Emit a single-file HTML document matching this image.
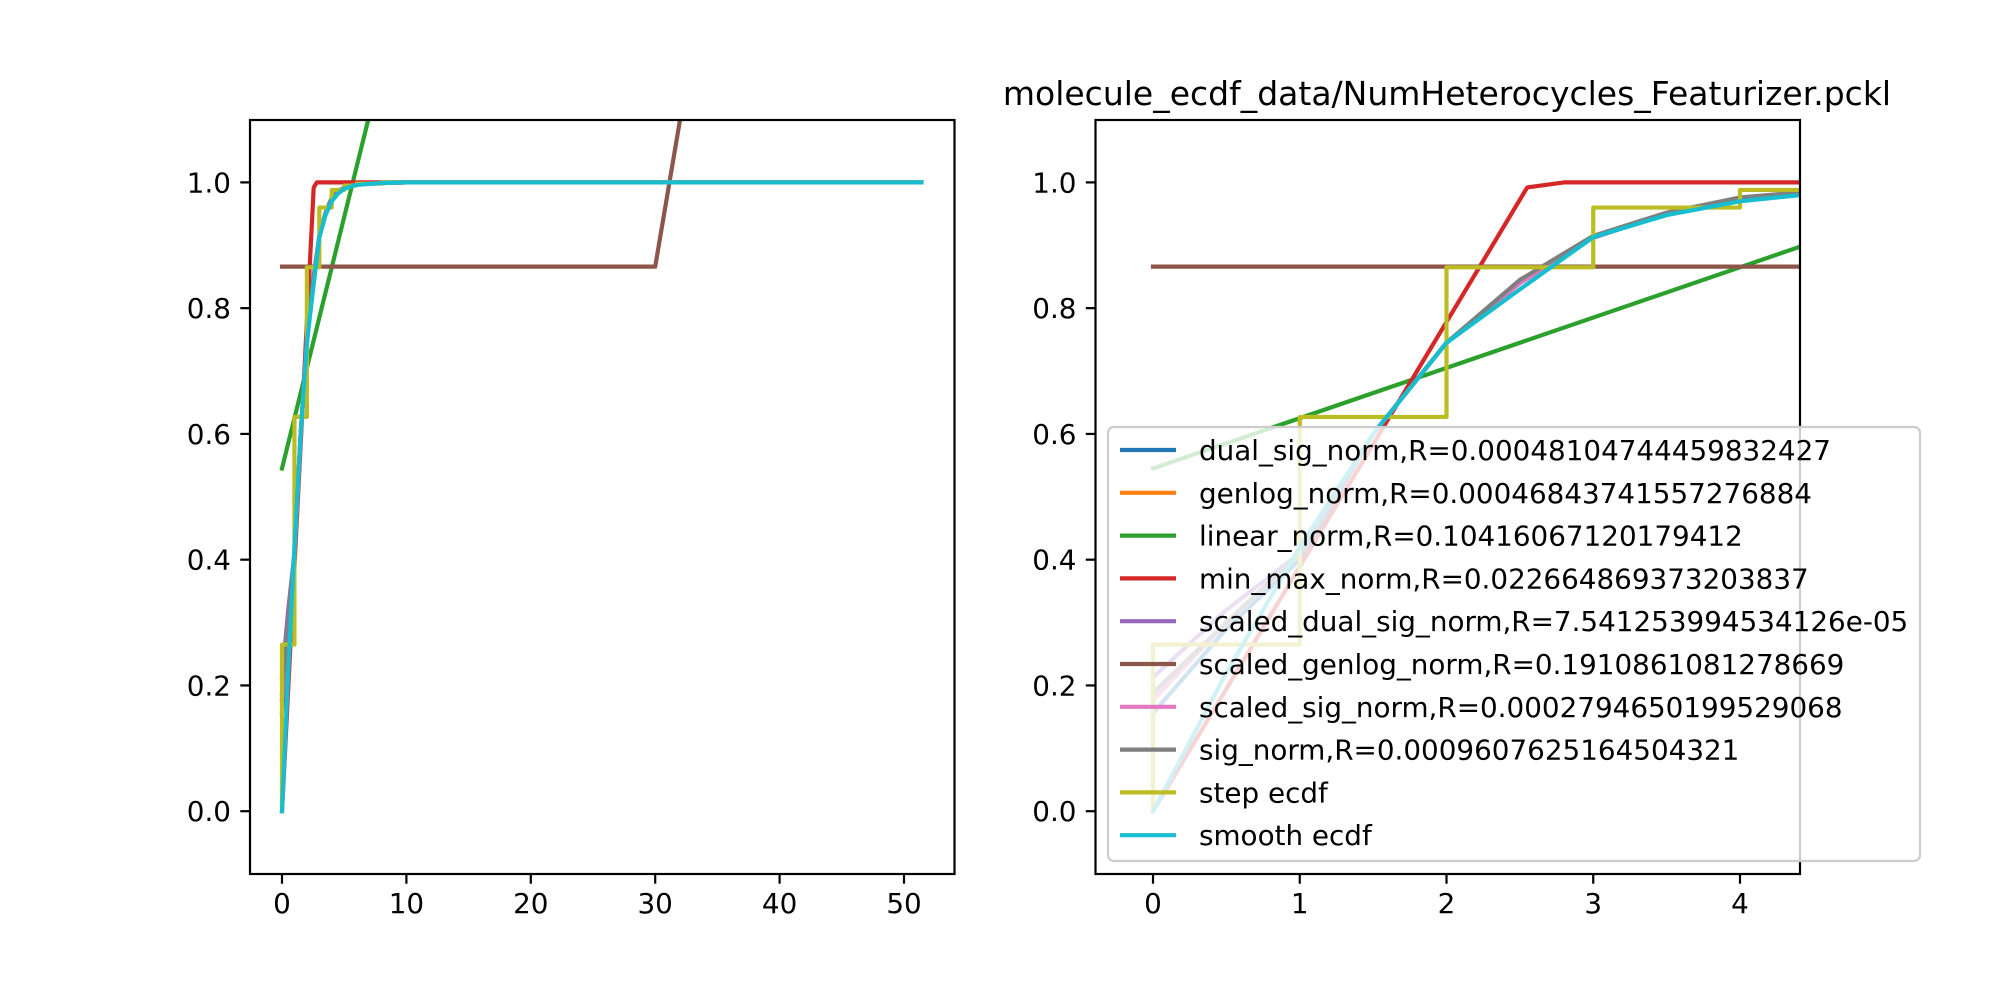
<!DOCTYPE html>
<html><head><meta charset="utf-8"><style>
html,body{margin:0;padding:0;background:#fff;}
svg text{font-family:"DejaVu Sans","Liberation Sans",sans-serif;fill:#000;}
</style></head><body>
<svg id="fig" width="2000" height="1000" viewBox="0 0 2000 1000" xmlns="http://www.w3.org/2000/svg">
<rect width="2000" height="1000" fill="#fff"/>
<defs>
<clipPath id="clipL"><rect x="250" y="120" width="704.5" height="754"/></clipPath>
<clipPath id="clipR"><rect x="1095.5" y="120" width="704.5" height="754"/></clipPath>
</defs>
<g id="left"></g>
<g id="right"></g>
<text x="1447" y="105" font-size="33" text-anchor="middle">molecule_ecdf_data/NumHeterocycles_Featurizer.pckl</text>
<g id="legend"></g>
</svg>
<script>
const smoothX = [0,0.5,1,1.5,2,2.5,3,3.5,4,4.5,5,6,8,10,51.4];
const dualSig = [0.156,0.29,0.40,0.60,0.745,0.84,0.914,0.95,0.975,0.985,0.991,0.997,0.999,1,1];
const genlog = [0.177,0.30,0.41,0.60,0.745,0.84,0.914,0.95,0.975,0.985,0.991,0.997,0.999,1,1];
const scaledDualSig = [0.213,0.32,0.41,0.60,0.745,0.84,0.912,0.95,0.975,0.985,0.99,0.997,0.999,1,1];
const scaledSig = [0.177,0.30,0.41,0.60,0.745,0.84,0.914,0.95,0.975,0.985,0.991,0.997,0.999,1,1];
const sigNorm = [0.188,0.30,0.41,0.60,0.745,0.845,0.915,0.952,0.976,0.986,0.992,0.997,0.999,1,1];
const smoothEcdf = [0,0.22,0.42,0.60,0.745,0.83,0.913,0.948,0.97,0.982,0.99,0.996,0.999,1,1];
const linearX = [0,51.4];
const linearY = [0.545,4.657];
const minMaxX = [0,2.55,2.8,51.4];
const minMaxY = [0,0.992,1,1];
const genScaledX = [0,30,51.4];
const genScaledY = [0.866,0.866,3.37];
const stepX = [0,1,2,3,4,5,6,8,51.4];
const stepY = [0.265,0.627,0.865,0.96,0.988,0.995,0.998,1,1];
const yTicks = [0,0.2,0.4,0.6,0.8,1.0];
const yTickLabels = ["0.0","0.2","0.4","0.6","0.8","1.0"];
const leftXTicks = [0,10,20,30,40,50];
const rightXTicks = [0,1,2,3,4];
const legendLabels = ["dual_sig_norm,R=0.00048104744459832427","genlog_norm,R=0.00046843741557276884","linear_norm,R=0.10416067120179412","min_max_norm,R=0.022664869373203837","scaled_dual_sig_norm,R=7.541253994534126e-05","scaled_genlog_norm,R=0.1910861081278669","scaled_sig_norm,R=0.0002794650199529068","sig_norm,R=0.0009607625164504321","step ecdf","smooth ecdf"];
const colors = ["#1f77b4","#ff7f0e","#2ca02c","#d62728","#9467bd","#8c564b","#e377c2","#7f7f7f","#bcbd22","#17becf"];

const NS="http://www.w3.org/2000/svg";
function mk(tag,attrs,parent){const e=document.createElementNS(NS,tag);for(const k in attrs)e.setAttribute(k,attrs[k]);parent.appendChild(e);return e;}
const yS = v => 811.2 - v*628.8;
const axesDefs = [
 {g:'left', x0:250, w:704.5, sx: v=>282+v*12.44, ticks:leftXTicks, clip:'clipL'},
 {g:'right', x0:1095.5, w:704.5, sx: v=>1153+v*146.75, ticks:rightXTicks, clip:'clipR'}
];
function stepPts(){const p=[[0,0]];let prev=0;for(let i=0;i<stepX.length;i++){p.push([stepX[i],prev]);p.push([stepX[i],stepY[i]]);prev=stepY[i];}return p;}
function zipPts(xs,ys){return xs.map((x,i)=>[x,ys[i]]);}
const series = [
 zipPts(smoothX,dualSig), zipPts(smoothX,genlog), zipPts(linearX,linearY), zipPts(minMaxX,minMaxY),
 zipPts(smoothX,scaledDualSig), zipPts(genScaledX,genScaledY), zipPts(smoothX,scaledSig), zipPts(smoothX,sigNorm),
 stepPts(), zipPts(smoothX,smoothEcdf)
];
const names=["dual-sig-norm-line","genlog-norm-line","linear-norm-line","min-max-norm-line","scaled-dual-sig-norm-line","scaled-genlog-norm-line","scaled-sig-norm-line","sig-norm-line","step-ecdf-line","smooth-ecdf-line"];
axesDefs.forEach(a=>{
 const g=document.getElementById(a.g);
 const lg=mk('g',{'clip-path':'url(#'+a.clip+')'},g);
 series.forEach((s,i)=>{
  const p=mk('polyline',{points:s.map(q=>a.sx(q[0]).toFixed(2)+','+yS(q[1]).toFixed(2)).join(' '),fill:'none',stroke:colors[i],'stroke-width':4.2,'stroke-linejoin':'round','stroke-linecap':'square'},lg);
  
  
 });
 const fr=mk('rect',{x:a.x0,y:120,width:a.w,height:754,fill:'none',stroke:'#000','stroke-width':2.2},g);
 
 
 yTicks.forEach((v,i)=>{
  const y=yS(v);
  mk('line',{x1:a.x0,x2:a.x0-9.7,y1:y,y2:y,stroke:'#000','stroke-width':2.2},g);
  const t=mk('text',{x:a.x0-19,y:y+10,'font-size':27.8,'text-anchor':'end'},g);
  t.textContent=yTickLabels[i];
  
  
 });
 a.ticks.forEach(v=>{
  const x=a.sx(v);
  mk('line',{x1:x,x2:x,y1:874,y2:883.7,stroke:'#000','stroke-width':2.2},g);
  const t=mk('text',{x:x,y:913,'font-size':27.8,'text-anchor':'middle'},g);
  t.textContent=String(v);
  
  
 });
});
const lgG=document.getElementById('legend');
mk('rect',{x:1108,y:427,width:812,height:434,rx:6,fill:'#fff','fill-opacity':0.8,stroke:'#cccccc','stroke-width':2.2},lgG);
legendLabels.forEach((lab,i)=>{
 const y=450+i*42.8;
 const ln=mk('line',{x1:1120,x2:1176,y1:y,y2:y,stroke:colors[i],'stroke-width':4.2},lgG);
 
 
 const t=mk('text',{x:1199,y:y+10,'font-size':27.8},lgG);
 t.textContent=lab;
 
 
});
</script>
</body></html>
